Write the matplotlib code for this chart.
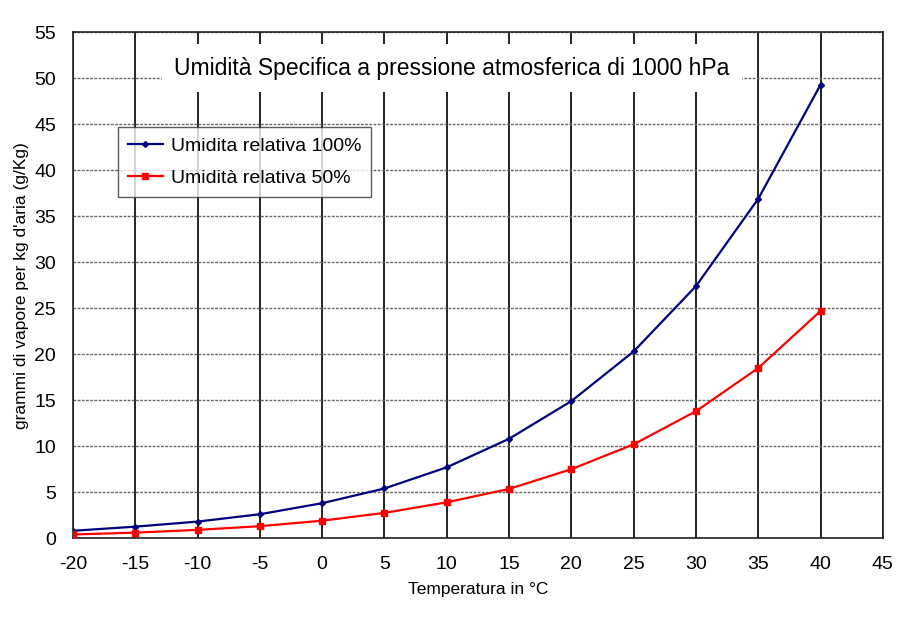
import matplotlib
matplotlib.use("Agg")
import matplotlib.pyplot as plt

temps = [-20, -15, -10, -5, 0, 5, 10, 15, 20, 25, 30, 35, 40]
rh100 = [0.8, 1.25, 1.8, 2.6, 3.8, 5.4, 7.7, 10.8, 14.9, 20.3, 27.4, 36.9, 49.3]
rh50 = [0.4, 0.6, 0.9, 1.3, 1.9, 2.75, 3.9, 5.35, 7.5, 10.2, 13.8, 18.5, 24.7]
xticks = list(range(-20, 50, 5))
yticks = list(range(0, 60, 5))

plt.rcParams['font.family'] = ['Liberation Sans', 'DejaVu Sans']

fig = plt.figure(figsize=(9, 6.2), dpi=100)
ax = fig.add_axes([0.081, 0.132, 0.900, 0.816])

ax.set_xlim(-20, 45)
ax.set_ylim(0, 55)
ax.set_xticks(xticks)
ax.set_yticks(yticks)
ax.set_xticklabels([str(t) for t in xticks], fontsize=14)
ax.set_yticklabels([str(t) for t in yticks], fontsize=14)
ax.tick_params(axis='x', length=0, pad=13)
ax.tick_params(axis='y', length=0, pad=12)

ax.xaxis.grid(True, color='black', linewidth=1.2, linestyle='-')
ax.yaxis.grid(True, color='#6a6a6a', linewidth=1.0, linestyle=(0, (2, 1)))
ax.set_axisbelow(True)
for s in ax.spines.values():
    s.set_color('#222222')
    s.set_linewidth(1.2)

ax.plot(temps, rh100, color='#000080', linewidth=1.6, marker='D', markersize=3,
        label='Umidita relativa 100%', zorder=3)
ax.plot(temps, rh50, color='#ff0000', linewidth=1.6, marker='s', markersize=5,
        label='Umidità relativa 50%', zorder=3)

ax.text(0.468, 0.929, 'Umidità Specifica a pressione atmosferica di 1000 hPa',
        transform=ax.transAxes, ha='center', va='center', fontsize=16.5,
        bbox=dict(facecolor='white', edgecolor='none', pad=9), zorder=4)

leg = ax.legend(loc='upper left', bbox_to_anchor=(0.056, 0.812), fontsize=14,
                frameon=True, fancybox=False, edgecolor='#333333',
                handlelength=1.8, borderpad=0.5, labelspacing=0.75,
                handletextpad=0.4, borderaxespad=0)
leg.get_frame().set_linewidth(1.0)
leg.set_zorder(5)

ax.set_xlabel('Temperatura in °C', fontsize=12.5, labelpad=6)
ax.set_ylabel("grammi di vapore per kg d'aria (g/Kg)", fontsize=12.5, labelpad=4)

fig.savefig('out.png', dpi=100, facecolor='white')
